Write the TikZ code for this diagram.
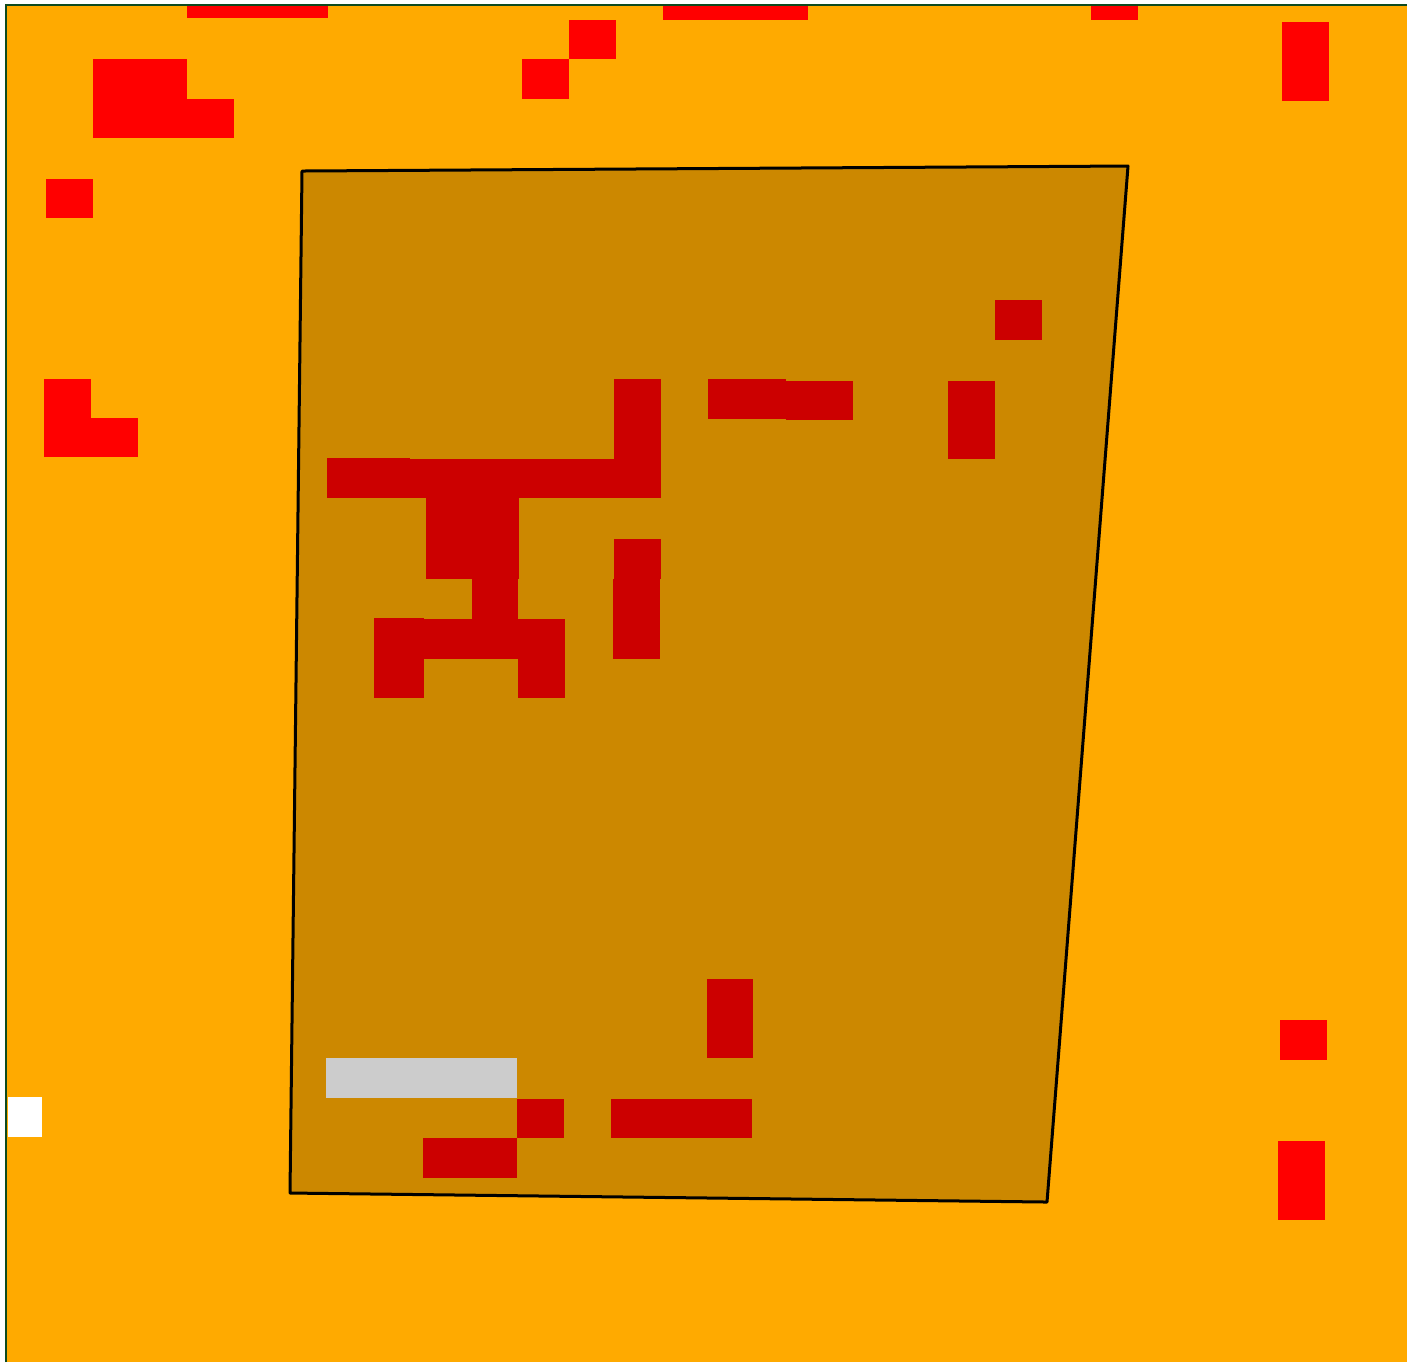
\documentclass[tikz,border=0pt]{standalone}
\usepackage{tikz}
\usetikzlibrary{positioning}
\definecolor{ground}{HTML}{FFAA00}
\definecolor{frameline}{HTML}{0E4A1E}
\tikzset{cell/.style = {fill=red},
         blank/.style = {fill=white},
         shade/.style = {fill=black, fill opacity=0.2, draw=black, draw opacity=1, line width=0.03cm, line join=round}}

\begin{document}
\begin{tikzpicture}[x=0.01cm, y=-0.01cm]
    \useasboundingbox (0,0) rectangle (1407,1362);
    \fill[ground] (6,5) rectangle (1407,1362);
    \draw[frameline, line width=0.02cm] (6,1362) -- (6,5) -- (1407,5);
    % red cells, outside and under the patch
    \foreach \xa/\ya/\xb/\yb in {187/6/328/18, 663/6/808/20, 1091/6/1138/20,
        569/20/616/59, 522/59/569/99, 93/59/187/138, 187/99/234/138,
        1282/22/1329/101, 46/179/93/218, 44/379/91/418, 44/418/138/457,
        995/300/1042/340, 614/379/661/459, 708/379/786/419, 786/381/853/420,
        948/381/995/459, 327/458/410/498, 410/459/661/498, 426/498/519/579,
        472/579/518/619, 374/618/424/698, 424/619/565/659, 518/659/565/698,
        614/539/661/579, 613/579/660/659, 707/979/753/1058,
        517/1099/564/1138, 611/1099/752/1138, 423/1138/517/1178,
        1280/1020/1327/1060, 1278/1141/1325/1220} {
        \fill[cell] (\xa,\ya) rectangle (\xb,\yb);
    }
    \fill[blank] (326,1058) rectangle (517,1098);
    \fill[blank] (8,1097) rectangle (42,1137);
    % the patch
    \coordinate (tl) at (302,171);
    \coordinate (tr) at (1128,166);
    \coordinate (br) at (1047,1202);
    \coordinate (bl) at (290,1193);
    \filldraw[shade] (tl) -- (tr) -- (br) -- (bl) -- cycle;
\end{tikzpicture}
\end{document}
